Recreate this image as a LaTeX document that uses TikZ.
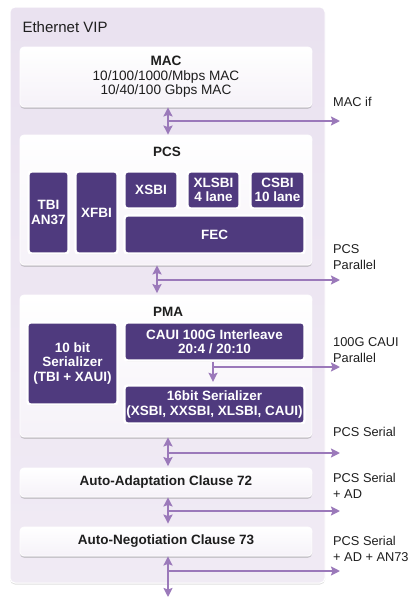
\documentclass[tikz,border=0pt]{standalone}
\usepackage{fontspec}
\setmainfont{Liberation Sans}
\usepackage{tikz}
\usetikzlibrary{arrows.meta}
\usetikzlibrary{shadows}
\definecolor{vipbg}{RGB}{234,226,240}
\definecolor{blk}{RGB}{79,58,126}
\definecolor{arr}{RGB}{155,121,186}
\definecolor{txt}{RGB}{30,30,30}

\begin{document}
\begin{tikzpicture}[x=1pt,y=-1pt,
	every node/.style={text=txt,font=\fontsize{13.6}{14.5}\selectfont},
	layer/.style={rectangle,rounded corners=4pt,draw=white,line width=0.8pt,
		top color=white,bottom color=vipbg!45,minimum width=292pt,inner sep=0pt,align=center,
		drop shadow={opacity=0.35,shadow xshift=0pt,shadow yshift=-1.8pt}},
	block/.style={rectangle,rounded corners=3pt,fill=blk,draw=white,line width=2.4pt,
		text=white,font=\fontsize{13.5}{14.5}\selectfont\bfseries,inner sep=0pt,align=center,
		drop shadow={opacity=0.25,shadow xshift=0pt,shadow yshift=-1pt}},
	sig/.style={anchor=west,align=left,inner sep=0pt,font=\fontsize{12.8}{15.5}\selectfont}]
	\useasboundingbox (0,0) rectangle (410,600);

	% outer frame
	\node[rectangle,rounded corners=5pt,draw=white,line width=1pt,top color=vipbg,bottom color=vipbg!70,
		minimum width=315pt,minimum height=576pt,
		drop shadow={opacity=0.25,shadow xshift=0pt,shadow yshift=-1.5pt}] (vip) at (167.5,295) {};
	\node[anchor=west,font=\fontsize{15}{17}\selectfont] (vipname) at (19,27) {Ethernet VIP};

	% layers
	\node[layer,minimum height=60pt] (mac) at (166,77)
		{\textbf{MAC}\\10/100/1000/Mbps MAC\\10/40/100 Gbps MAC};
	\node[layer,minimum height=130pt] (pcs) at (166,200) {};
	\node[font=\fontsize{13.5}{14.5}\selectfont\bfseries] (pcsname) at (167,152) {PCS};
	\node[layer,minimum height=142pt] (pma) at (166,366) {};
	\node[font=\fontsize{13.5}{14.5}\selectfont\bfseries] (pmaname) at (168,312) {PMA};
	\node[layer,minimum height=29pt,font=\fontsize{13.5}{14.5}\selectfont\bfseries] (aa) at (166,482.5)
		{Auto-Adaptation Clause 72};
	\node[layer,minimum height=29pt,font=\fontsize{13.5}{14.5}\selectfont\bfseries] (an) at (166,541.5)
		{Auto-Negotiation Clause 73};

	% blocks
	\begin{scope}[every node/.append style={block}]
		\node[minimum width=40pt,minimum height=82pt] (tbi) at (48.5,212.5) {TBI\\AN37};
		\node[minimum width=42pt,minimum height=82pt] (xfbi) at (96.5,212.5) {XFBI};
		\node[minimum width=53pt,minimum height=37pt] (xsbi) at (151,190) {XSBI};
		\node[minimum width=52pt,minimum height=37pt] (xlsbi) at (213.5,190) {XLSBI\\4 lane};
		\node[minimum width=54pt,minimum height=37pt] (csbi) at (277.5,190) {CSBI\\10 lane};
		\node[minimum width=180pt,minimum height=38pt] (fec) at (214.5,234.5) {FEC};
		\node[minimum width=90pt,minimum height=82pt] (ser10) at (72.5,363.5)
			{10 bit\\Serializer\\(TBI + XAUI)};
		\node[minimum width=180pt,minimum height=38pt] (caui) at (214.5,341.5)
			{CAUI 100G Interleave\\20:4 / 20:10};
		\node[minimum width=180pt,minimum height=38pt] (ser16) at (214.5,404.5)
			{16bit Serializer\\(XSBI, XXSBI, XLSBI, CAUI)};
	\end{scope}

	% interfaces
	\coordinate (macif) at (340,121);
	\coordinate (pcspar) at (340,280);
	\coordinate (cauipar) at (340,367);
	\coordinate (pcsser) at (340,453);
	\coordinate (pcsad) at (340,511);
	\coordinate (pcsan) at (340,571);
	\coordinate (phy) at (168,597);

	\begin{scope}[>={Stealth[length=9pt,width=9pt,inset=1.5pt]},
	              every path/.style={draw=arr,fill=none,line width=2pt}]
		\draw[<->] ([xshift=2pt]mac.south) -- ([xshift=2pt]pcs.north);
		\draw[->] ([xshift=2pt]mac.south |- macif) -- (macif);
		\draw[<->,shorten >=1.5pt] ([xshift=-9pt]pcs.south) -- ([xshift=-9pt]pma.north);
		\draw[->] ([xshift=-9pt]pcs.south |- pcspar) -- (pcspar);
		\draw[->,shorten >=2.5pt] ([xshift=-1.5pt]caui.south) -- ([xshift=-1.5pt]ser16.north);
		\draw[->] ([xshift=-1.5pt]caui.south |- cauipar) -- (cauipar);
		\draw[<->,shorten >=1.5pt] ([xshift=2pt]pma.south) -- ([xshift=2pt]aa.north);
		\draw[->] ([xshift=2pt]pma.south |- pcsser) -- (pcsser);
		\draw[<->,shorten >=3pt] ([xshift=2pt]aa.south) -- ([xshift=2pt]an.north);
		\draw[->] ([xshift=2pt]aa.south |- pcsad) -- (pcsad);
		\draw[<->] ([xshift=2pt]an.south) -- (phy);
		\draw[->] ([xshift=2pt]an.south |- pcsan) -- (pcsan);
	\end{scope}

	% interface names
	\node[sig] (macifname) at (333,102) {MAC if};
	\node[sig] (pcsparname) at (333,257) {PCS\\Parallel};
	\node[sig] (cauiparname) at (333,350) {100G CAUI\\Parallel};
	\node[sig] (pcssername) at (333,432) {PCS Serial};
	\node[sig] (pcsadname) at (333,486) {PCS Serial\\+ AD};
	\node[sig] (pcsanname) at (333,549) {PCS Serial\\+ AD + AN73};
\end{tikzpicture}
\end{document}
